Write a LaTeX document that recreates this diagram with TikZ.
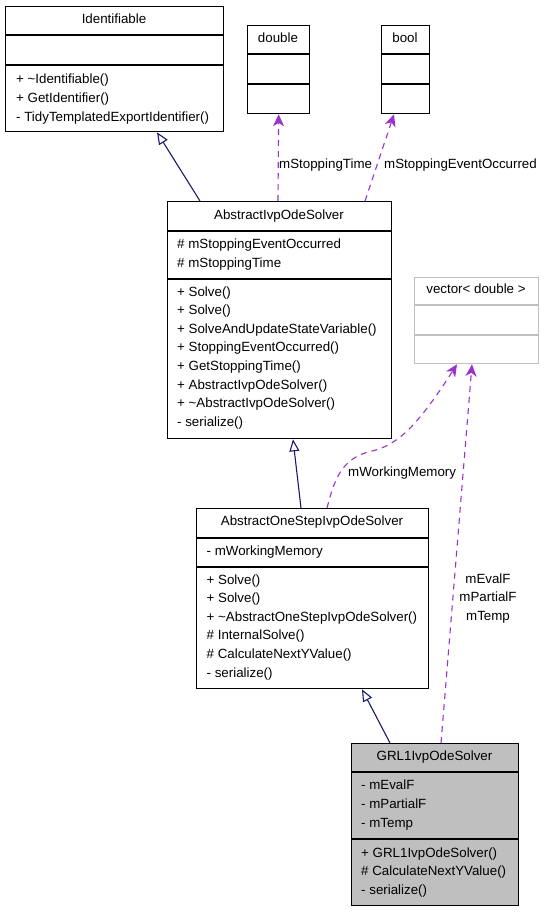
\documentclass[tikz,border=0pt]{standalone}
\usepackage{fontspec}
\setmainfont{Liberation Sans}
\usetikzlibrary{arrows.meta,calc}
\definecolor{inhcol}{HTML}{191970}
\definecolor{usecol}{HTML}{9A32CD}
\definecolor{greybox}{HTML}{BFBFBF}
\begin{document}
\begin{tikzpicture}[x=1pt,y=-1pt,
  font=\fontsize{13.33}{16}\selectfont,
  cls/.style={draw=black, line width=1.33pt, rectangle, inner sep=0pt, anchor=north west},
  divider/.style={draw=black, line width=1.33pt},
  txt/.style={anchor=base west, inner sep=0pt},
  ttl/.style={anchor=base, inner sep=0pt},
  inherit/.style={draw=inhcol, line width=1.1pt, -{Triangle[length=12pt,width=10pt,fill=white,line width=1.1pt]}},
  uses/.style={draw=usecol, line width=1.1pt, dash pattern=on 6pt off 5pt, -{Stealth[length=12pt,width=11pt,inset=3.5pt]}},
  lbl/.style={inner sep=0pt}
]
\useasboundingbox (0,0) rectangle (543,912);

% Identifiable
\node[cls, minimum width=218pt, minimum height=125pt] (ident) at (5,6) {};
\draw[divider] (5,35) -- (223,35);
\draw[divider] (5,65) -- (223,65);
\node[ttl] (identt) at (114,24) {Identifiable};
\foreach \t [count=\i] in {{+ \textasciitilde Identifiable()},{+ GetIdentifier()},{- TidyTemplatedExportIdentifier()}}
  \node[txt] (identm\i) at (16,{84+18.6*(\i-1)}) {\t};

% double
\node[cls, minimum width=62pt, minimum height=88pt] (dbl) at (247,25) {};
\draw[divider] (247,54) -- (309,54);
\draw[divider] (247,84) -- (309,84);
\node[ttl] (dblt) at (278,43) {double};

% bool
\node[cls, minimum width=48pt, minimum height=88pt] (bool) at (381,25) {};
\draw[divider] (381,54) -- (429,54);
\draw[divider] (381,84) -- (429,84);
\node[ttl] (boolt) at (405,43) {bool};

% AbstractIvpOdeSolver
\node[cls, minimum width=224pt, minimum height=237pt] (aivp) at (167,201) {};
\draw[divider] (167,231) -- (391,231);
\draw[divider] (167,279) -- (391,279);
\node[ttl] (aivpt) at (279,219) {AbstractIvpOdeSolver};
\node[txt] (aivpa1) at (177,248) {\# mStoppingEventOccurred};
\node[txt] (aivpa2) at (177,267) {\# mStoppingTime};
\foreach \t [count=\i] in {{+ Solve()},{+ Solve()},{+ SolveAndUpdateStateVariable()},{+ StoppingEventOccurred()},{+ GetStoppingTime()},{+ AbstractIvpOdeSolver()},{+ \textasciitilde AbstractIvpOdeSolver()},{- serialize()}}
  \node[txt] (aivpm\i) at (177,{296+18.6*(\i-1)}) {\t};

% vector< double >
\node[cls, draw=greybox, minimum width=124pt, minimum height=86pt] (vec) at (414,277) {};
\draw[divider, draw=greybox] (414,305) -- (538,305);
\draw[divider, draw=greybox] (414,335) -- (538,335);
\node[ttl] (vect) at (476,293) {vector< double >};

% AbstractOneStepIvpOdeSolver
\node[cls, minimum width=232pt, minimum height=180pt] (aos) at (196,508) {};
\draw[divider] (196,538) -- (428,538);
\draw[divider] (196,567) -- (428,567);
\node[ttl] (aost) at (312,525) {AbstractOneStepIvpOdeSolver};
\node[txt] (aosa1) at (206.5,555) {- mWorkingMemory};
\foreach \t [count=\i] in {{+ Solve()},{+ Solve()},{+ \textasciitilde AbstractOneStepIvpOdeSolver()},{\# InternalSolve()},{\# CalculateNextYValue()},{- serialize()}}
  \node[txt] (aosm\i) at (206.5,{584+18.6*(\i-1)}) {\t};

% GRL1IvpOdeSolver
\node[cls, fill=greybox, minimum width=167pt, minimum height=162pt] (grl) at (351,743) {};
\draw[divider] (351,772) -- (518,772);
\draw[divider] (351,839) -- (518,839);
\node[ttl] (grlt) at (434.5,760) {GRL1IvpOdeSolver};
\node[txt] (grla1) at (361,789) {- mEvalF};
\node[txt] (grla2) at (361,808) {- mPartialF};
\node[txt] (grla3) at (361,827) {- mTemp};
\node[txt] (grlm1) at (361,857) {+ GRL1IvpOdeSolver()};
\node[txt] (grlm2) at (361,875.5) {\# CalculateNextYValue()};
\node[txt] (grlm3) at (361,894) {- serialize()};

% inheritance
\draw[inherit] ($(aivp.north west)+(33,0)$) -- ($(ident.south west)+(152,0)$);
\draw[inherit] ($(aos.north west)+(105,0)$) -- ($(aivp.south west)+(126,0)$);
\draw[inherit] ($(grl.north west)+(39,0)$) -- ($(aos.south west)+(166,0)$);

% usage
\draw[uses] ($(aivp.north west)+(111,0)$) -- (dbl.south);
\draw[uses] ($(aivp.north west)+(198,0)$) -- ($(bool.south west)+(13,0)$);
\draw[uses] ($(aos.north west)+(131,0)$) .. controls (334,482) and (340,458) .. (372,451) .. controls (398,445) and (418,425) .. ($(vec.south west)+(43,0)$);
\draw[uses] ($(grl.north west)+(90,0)$) -- ($(vec.south west)+(58,0)$);

% labels
\node[lbl, anchor=base west] (lst) at (279,169) {mStoppingTime};
\node[lbl, anchor=base west] (lse) at (384,169) {mStoppingEventOccurred};
\node[lbl, anchor=base west] (lwm) at (348,476) {mWorkingMemory};
\node[lbl, anchor=base] (lev) at (488,583) {mEvalF};
\node[lbl, anchor=base] (lpf) at (488,601) {mPartialF};
\node[lbl, anchor=base] (ltm) at (488,620) {mTemp};
\end{tikzpicture}
\end{document}
